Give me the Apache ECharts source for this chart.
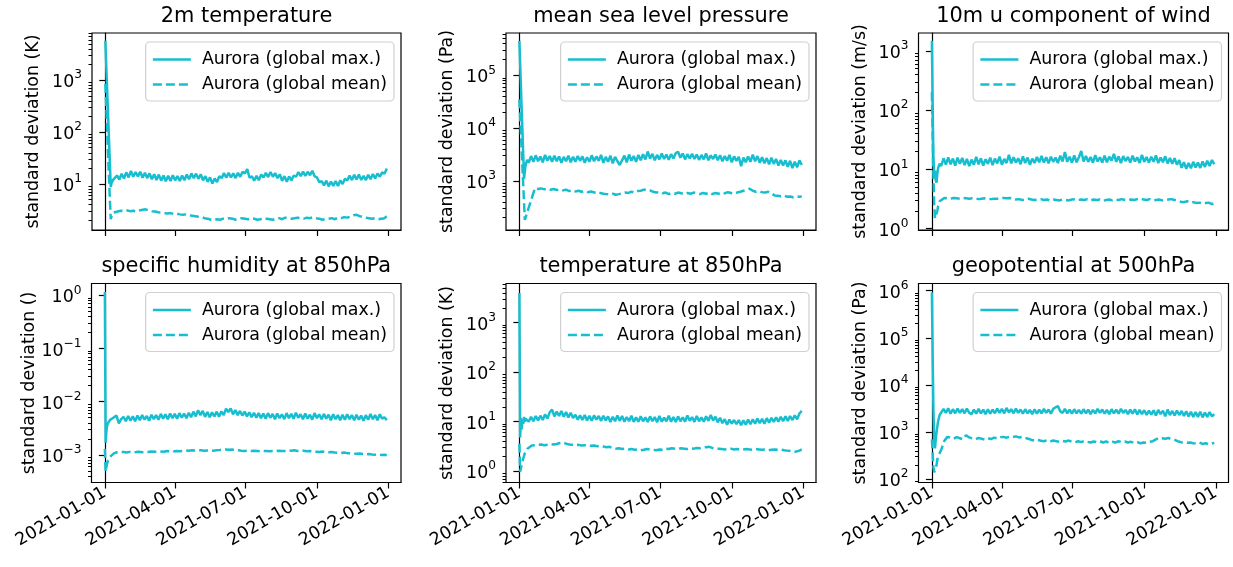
<!DOCTYPE html>
<html>
<head>
<meta charset="utf-8">
<script src="https://cdn.jsdelivr.net/npm/echarts@6.0.0/dist/echarts.min.js"></script>
<style>
html,body{margin:0;padding:0;background:#fff;}
#chart{width:1233px;height:567px;}
</style>
</head>
<body>
<div id="chart"></div>
<script>
// ---------- DATA ----------
// day offsets from 2021-01-01 for the "global max." series
const daysMax = [0,1,2,3,4,5,6,7,8,10,
  12,15,18,21,24,27,30,33,36,39,
  42,45,48,51,54,57,60,63,66,69,
  72,75,78,81,84,87,90,93,96,99,
  102,105,108,111,114,117,120,123,126,129,
  132,135,138,141,144,147,150,153,156,159,
  162,165,168,171,174,177,180,183,186,189,
  192,195,198,201,204,207,210,213,216,219,
  222,225,228,231,234,237,240,243,246,249,
  252,255,258,261,264,267,270,273,276,279,
  282,285,288,291,294,297,300,303,306,309,
  312,315,318,321,324,327,330,333,336,339,
  342,345,348,351,354,357,360,363];
// day offsets from 2021-01-01 for the "global mean" series
const daysMean = [0,1,2,3,4,5,6,7,8,10,
  12,16,20,24,28,32,36,40,44,48,
  52,56,60,64,68,72,76,80,84,88,
  92,96,100,104,108,112,116,120,124,128,
  132,136,140,144,148,152,156,160,164,168,
  172,176,180,184,188,192,196,200,204,208,
  212,216,220,224,228,232,236,240,244,248,
  252,256,260,264,268,272,276,280,284,288,
  292,296,300,304,308,312,316,320,324,328,
  332,336,340,344,348,352,356,360,363];

const xTickValues = [0, 90, 181, 273, 365];
const xTickLabels = ['2021-01-01','2021-04-01','2021-07-01','2021-10-01','2022-01-01'];

const panelTitles = ['2m temperature','mean sea level pressure','10m u component of wind',
  'specific humidity at 850hPa','temperature at 850hPa','geopotential at 500hPa'];
const yAxisNames = ['standard deviation (K)','standard deviation (Pa)','standard deviation (m/s)',
  'standard deviation ()','standard deviation (K)','standard deviation (Pa)'];
const yMin = [1.30, 117, 0.95, 3.03e-4, 0.59, 85];
const yMax = [8130, 635000, 1995, 1.67, 6200, 1.42e6];
const yTickValues = [[10,100,1000],[1000,10000,100000],[1,10,100,1000],
  [0.001,0.01,0.1,1],[1,10,100,1000],[100,1000,10000,100000,1000000]];
const legendNames = ['Aurora (global max.)','Aurora (global mean)'];

const t2mMax = [5800,2300,900,360,140,56,22,8.8,10.5,12,
  11.4,14.6,12.2,15.8,12.8,16.8,13.4,17.8,13.8,17,
  14,17.2,13.2,16.4,13,16,12.4,15.4,12,15.2,
  11.6,14.6,11.3,14.4,11.4,14.8,11.8,14.2,11.4,14.6,
  11.8,15.2,12.4,16,13,15.8,12.6,15.4,11.8,14.2,
  11,13.4,10.2,12.8,10.9,14.2,13,16.2,13.2,16.4,
  13.4,16,13,16.4,13.8,17.2,16,19.4,13.2,14,
  11.6,14.4,11.8,15.2,13.4,16.4,13.6,17,13.8,16.2,
  13,15.4,11.5,14.2,11.1,14,11.7,14.6,13.8,17,
  14.2,17.4,14.4,17.2,14.8,18,14,13.4,10.8,11.4,
  9.4,11.6,9,11.2,9.2,11.4,9.2,11.8,10,12.6,
  11.7,14.6,11.9,15,12.2,15.2,12,14.4,11.9,15,
  12.4,15.6,12.8,16,13.8,16.8,15.8,20];
const t2mMean = [850,360,150,60,25,10.5,4.5,2.1,2.4,2.8,
  3.0,2.95,3.05,2.98,3.1,3.0,3.05,2.95,3.1,3.2,
  3.25,3.1,3.0,2.95,2.85,2.8,2.75,2.7,2.75,2.65,
  2.7,2.6,2.55,2.6,2.5,2.45,2.4,2.35,2.3,2.2,
  2.15,2.05,2.0,2.1,2.05,2.15,2.1,2.2,2.15,2.05,
  2.1,2.2,2.15,2.1,2.2,2.15,2.05,2.1,2.2,2.15,
  2.1,2.05,2.15,2.2,2.1,2.25,2.2,2.15,2.2,2.25,
  2.2,2.15,2.25,2.2,2.3,2.2,2.15,2.05,2.1,2.15,
  2.2,2.1,2.25,2.2,2.3,2.25,2.35,2.5,2.55,2.4,
  2.35,2.25,2.2,2.15,2.2,2.1,2.15,2.2,2.4];

const mslMax = [450000,166000,61000,22400,8300,3050,1100,1500,2000,2500,
  2200,2950,2300,3050,2350,2900,2250,3100,2400,2950,
  2300,3000,2350,2900,2200,2850,2350,3000,2250,2850,
  2300,2950,2400,2900,2200,2800,2300,3050,2350,2900,
  2400,3100,2200,2850,2300,3000,2150,2850,2350,2000,
  2450,3000,2250,3150,2400,2950,2300,3100,2450,3200,
  2550,3600,2650,3250,2450,3100,2550,3300,2600,3150,
  2500,3200,2650,3350,3550,2750,3300,2550,3200,2650,
  3250,2600,3150,2500,3100,2550,3300,2450,3050,2600,
  3150,2450,3050,2350,2950,2400,3100,2250,2900,2400,
  2850,1900,2750,2250,2900,2300,3150,2350,2950,2200,
  2800,2150,2700,2050,2750,2100,2600,1950,2500,1950,
  2450,1850,2400,1750,2300,1800,2450,2000];
const mslMean = [35000,16300,7700,3650,1720,815,385,182,202,250,
  310,473,725,700,720,690,710,680,700,670,
  690,660,680,640,660,630,650,620,640,610,
  630,600,620,590,570,560,550,570,545,560,
  580,600,590,620,600,640,650,680,690,660,
  620,600,610,580,600,560,590,570,600,580,
  560,590,570,600,580,560,590,570,600,560,
  590,570,600,580,610,590,570,600,620,650,
  680,710,650,620,640,610,600,620,580,530,
  520,510,530,500,505,490,510,500,505];

const u10Max = [1480,120,15,7.5,9.5,6.5,6,8.5,10.5,12.5,
  11.4,15.4,12,16,12.2,15.2,11.6,15.8,12.4,15.6,
  11.8,15,11.4,14.6,12,16.2,12.2,15.4,11.6,14.8,
  12.4,15.8,11.8,15.2,12.6,16.4,12,15,12.8,17.6,
  12.6,16,13,15.4,12.2,16.6,12.8,15.8,12,15.2,
  12.8,16.2,13.2,16.8,13,16,12.6,16.4,13.4,15.8,
  12.8,17,13.6,19.6,13.4,16.4,13,17.2,13.2,16,
  20.5,13.6,16.8,13.4,16.2,13,17.4,13.6,16,13,
  17,13.2,16.4,14,18.2,13.4,16.6,12.8,16.8,13.8,
  16.2,13,17,13.6,16,12.8,17.6,13.4,16.2,13,
  16.4,13.4,17.2,12.8,15.8,13.2,16.6,12.6,15.6,12.4,
  15.4,12,14.4,10.6,13.2,10.2,12.8,10.4,13.4,10.8,
  13,10.6,13.6,11,14,11.4,14.4,12.2];
const u10Mean = [200,40,8,2.5,1.5,1.45,1.6,2.0,2.4,2.9,
  3.1,3.3,3.25,3.2,3.3,3.25,3.2,3.3,3.25,3.2,
  3.25,3.2,3.15,3.2,3.25,3.2,3.15,3.2,3.2,3.25,
  3.3,3.25,3.3,3.2,3.1,3.15,3.05,3.1,3.2,3.1,
  3.05,3.1,3.15,3.05,3.1,3.0,3.1,3.05,3.0,3.1,
  3.05,3.0,3.1,3.15,3.05,3.1,3.05,3.15,3.0,3.1,
  3.05,3.1,2.95,3.05,3.1,3.0,3.1,3.05,3.15,3.05,
  3.0,3.1,3.05,3.15,3.25,3.1,3.05,3.15,3.0,3.05,
  3.1,3.0,3.05,3.1,3.15,3.05,2.95,2.85,2.8,2.9,
  2.75,2.8,2.7,2.75,2.65,2.7,2.75,2.6,2.7];

const q850Max = [1.15,0.0017,0.0028,0.0036,0.0039,0.0042,0.0044,0.0046,0.0047,0.0049,
  0.0046,0.0055,0.0039,0.0047,0.0052,0.0043,0.0054,0.0044,0.0053,0.0043,
  0.0055,0.0045,0.0056,0.0046,0.0054,0.0044,0.0057,0.0047,0.0056,0.0046,
  0.0059,0.0048,0.0058,0.0047,0.006,0.0049,0.0059,0.0048,0.0061,0.005,
  0.006,0.0049,0.0062,0.0051,0.0065,0.0053,0.0069,0.0056,0.0067,0.0052,
  0.0064,0.0051,0.0063,0.0053,0.0065,0.0052,0.0066,0.0056,0.0074,0.0064,
  0.0075,0.0058,0.007,0.0056,0.0067,0.0055,0.0065,0.0053,0.0063,0.0051,
  0.0062,0.005,0.0061,0.0049,0.006,0.0048,0.0061,0.005,0.0059,0.0047,
  0.006,0.0049,0.0058,0.0047,0.0061,0.0049,0.0059,0.0048,0.0062,0.005,
  0.0058,0.0047,0.006,0.0048,0.0057,0.0046,0.0061,0.0049,0.0058,0.0047,
  0.0059,0.0048,0.0057,0.0045,0.0058,0.0047,0.0056,0.0045,0.0057,0.0046,
  0.0058,0.0047,0.0056,0.0045,0.0057,0.0046,0.0055,0.0044,0.0056,0.0046,
  0.0059,0.0047,0.0056,0.0045,0.0058,0.0048,0.0051,0.0045];
const q850Mean = [0.0013,0.00048,0.0006,0.0007,0.00078,0.00082,0.00088,0.00092,0.00096,0.00103,
  0.00108,0.00112,0.00114,0.00113,0.00111,0.00114,0.00112,0.00113,0.00115,0.00112,
  0.00114,0.00113,0.00116,0.00115,0.00117,0.00116,0.00115,0.00118,0.00117,0.00116,
  0.00118,0.00117,0.00119,0.00121,0.0012,0.00122,0.00121,0.00123,0.00122,0.0012,
  0.00121,0.00122,0.0012,0.00123,0.00124,0.00126,0.00127,0.00125,0.00126,0.00123,
  0.00122,0.0012,0.00119,0.00121,0.00118,0.0012,0.00119,0.00117,0.00119,0.00118,
  0.00117,0.00119,0.00118,0.0012,0.00118,0.00119,0.00121,0.0012,0.00122,0.00119,
  0.00118,0.0012,0.00117,0.00118,0.00116,0.00115,0.00114,0.00116,0.00113,0.00112,
  0.00113,0.00111,0.0011,0.00109,0.00111,0.00108,0.00107,0.00106,0.00105,0.00106,
  0.00104,0.00103,0.00104,0.00102,0.00101,0.00102,0.001,0.00101,0.00099];

const t850Max = [4000,4.8,12,7,11,9,12.5,10,11.5,10.5,
  10,12.6,10.2,13,10.6,13.2,10.8,14,11.6,15.4,
  17.6,12.8,16,13,16.4,12.6,15.6,12.2,15.2,11.8,
  13.8,11,13.4,10.8,13.6,10.6,13.2,10.4,13.4,11,
  13,10.4,13.2,10.6,12.8,9.9,12.6,10.2,13.4,10.4,
  13,10,12.4,10.2,13.2,9.9,12.2,10,12.8,10.2,
  12.2,9.9,12.8,10.2,12.4,9.7,13,10,12,10.2,
  13.2,10,12.4,9.9,12.8,10.2,12.2,10,13.4,10.4,
  12.4,9.9,13,10.2,12.2,10,12.8,10.4,13.6,10.6,
  12.6,9.7,12,9.3,11.2,8.7,11,9.1,10.8,8.9,
  10.8,8.5,10.6,8.7,11,8.9,11.2,9.1,11.6,9.3,
  11.4,9.1,11.8,9.5,12,9.9,12.2,10,12.6,10.2,
  12.8,10.4,13,10.8,13.4,11.2,14.6,16.5];
const t850Mean = [3.6,0.97,1.15,1.35,1.55,1.8,2.05,2.3,2.5,2.8,
  3.05,3.3,3.35,3.4,3.45,3.35,3.4,3.5,3.45,3.55,
  3.7,3.8,3.6,3.45,3.4,3.35,3.4,3.3,3.35,3.3,
  3.25,3.3,3.2,3.25,3.15,3.05,3.1,2.95,2.85,2.9,
  2.8,2.85,2.75,2.8,2.7,2.75,2.65,2.7,2.8,2.75,
  2.7,2.65,2.75,2.7,2.85,2.8,2.9,2.85,2.8,2.9,
  2.85,2.8,2.9,2.85,2.95,2.9,3.0,3.05,3.1,2.95,
  2.9,2.85,2.8,2.75,2.8,2.85,2.75,2.8,2.7,2.75,
  2.8,2.75,2.7,2.8,2.75,2.7,2.75,2.65,2.7,2.75,
  2.7,2.75,2.65,2.6,2.55,2.45,2.5,2.6,2.75];

const z500Max = [920000,40000,3000,600,450,700,1000,1300,1700,2300,
  2450,3100,2550,3200,2450,3050,2500,3150,2550,3050,
  2500,3150,2550,2400,3000,2450,3100,2500,3000,2400,
  3050,2450,3000,2500,3150,2550,3100,2500,3250,2600,
  3050,2500,3150,2550,3000,2450,3050,2500,2950,2400,
  3050,2450,3000,2500,3100,2550,3000,2450,3100,3350,
  3550,2750,2550,3100,2500,3000,2450,3050,2500,2950,
  2450,3050,2500,3000,2400,2950,2500,3100,2550,3000,
  2450,2950,2400,3050,2500,3000,2450,3100,2550,2950,
  2400,3000,2450,3050,2350,2950,2400,2900,2300,2850,
  2350,2900,2250,2950,2400,2850,2150,3000,2300,2800,
  2250,2850,2300,2800,2200,2750,2150,2700,2100,2650,
  2100,2700,2050,2600,2100,2650,2150,2400];
const z500Mean = [700,350,180,140,135,150,200,260,300,330,
  420,650,790,760,720,780,740,700,860,770,
  730,700,750,720,690,740,710,760,730,780,
  790,760,800,780,810,770,790,750,720,680,
  660,690,650,640,670,630,660,640,620,650,
  630,660,620,600,640,610,650,620,600,630,
  610,640,600,630,590,620,600,640,610,630,
  600,620,590,610,580,600,590,620,640,700,
  760,740,720,750,700,680,640,610,600,590,
  600,580,570,600,560,580,550,570,590];

const maxSeries = [t2mMax, mslMax, u10Max, q850Max, t850Max, z500Max];
const meanSeries = [t2mMean, mslMean, u10Mean, q850Mean, t850Mean, z500Mean];

// ---------- LAYOUT / STYLE ----------
const FONT = 'DejaVu Sans';
const FS = 17.4;
const COLOR = '#17becf';
const gridBoxes = [
  {left: 92, top: 33, width: 309, height: 197},
  {left: 506, top: 33, width: 310, height: 197},
  {left: 918.5, top: 33, width: 310, height: 197},
  {left: 91.5, top: 283.5, width: 309.5, height: 199},
  {left: 506, top: 283.5, width: 310, height: 199},
  {left: 918.5, top: 283.5, width: 310, height: 199}
];
const X_MIN = -17.2, X_MAX = 381.3;

function toPairs(xs, vals){ return vals.map((v,i)=>[xs[i], v]); }
function minorTicks(min, max){
  const out = [];
  for (let e = Math.floor(Math.log10(min)) - 1; e <= Math.ceil(Math.log10(max)); e++) {
    for (let m = 2; m <= 9; m++) {
      const v = parseFloat((m * Math.pow(10, e)).toPrecision(6));
      if (v >= min && v <= max) out.push(v);
    }
  }
  return out;
}
function logLabel(v){
  const e = Math.round(Math.log10(v));
  return '{b|10}{s|' + String(e).replace('-', '\u2212') + '}';
}

const grids = [], xAxes = [], yAxes = [], series = [], titles = [], legends = [];
gridBoxes.forEach((g, i) => {
  const bottomRow = i >= 3;
  grids.push({left: g.left, top: g.top, width: g.width, height: g.height,
    show: true, borderColor: '#000', borderWidth: 1.2, backgroundColor: 'transparent'});
  xAxes.push({
    type: 'value', gridIndex: i, min: X_MIN, max: X_MAX,
    axisLine: {show: true, onZero: false, lineStyle: {color: '#000', width: 1.2}},
    axisTick: {show: true, length: 6, customValues: xTickValues, lineStyle: {color: '#000', width: 1.2}},
    axisLabel: {show: bottomRow, customValues: xTickValues, rotate: 30, margin: 9,
      fontFamily: FONT, fontSize: FS, color: '#000',
      formatter: (v) => { const k = xTickValues.indexOf(v); return k >= 0 ? xTickLabels[k] : ''; }},
    splitLine: {show: false}
  });
  yAxes.push({
    type: 'log', logBase: 10, gridIndex: i, position: 'left', min: yMin[i], max: yMax[i],
    name: yAxisNames[i], nameLocation: 'middle', nameGap: 50,
    nameTextStyle: {fontFamily: FONT, fontSize: FS, color: '#000'},
    axisLine: {show: true, lineStyle: {color: '#000', width: 1.2}},
    axisTick: {show: true, length: 6, customValues: yTickValues[i], lineStyle: {color: '#000', width: 1.2}},
    axisLabel: {show: true, customValues: yTickValues[i], margin: 10, formatter: logLabel,
      rich: {
        b: {fontFamily: FONT, fontSize: FS, color: '#000', lineHeight: 22, verticalAlign: 'bottom'},
        s: {fontFamily: FONT, fontSize: 12.2, color: '#000', lineHeight: 12, verticalAlign: 'top'}
      }},
    splitLine: {show: false}
  });
  yAxes.push({
    type: 'log', logBase: 10, gridIndex: i, position: 'left', offset: 0, min: yMin[i], max: yMax[i],
    axisLine: {show: false},
    axisTick: {show: true, length: 3.5, customValues: minorTicks(yMin[i], yMax[i]), lineStyle: {color: '#000', width: 1}},
    axisLabel: {show: false},
    splitLine: {show: false}
  });
  series.push({
    name: legendNames[0], type: 'line', xAxisIndex: i, yAxisIndex: 2*i,
    data: toPairs(daysMax, maxSeries[i]), showSymbol: false, symbol: 'none',
    lineStyle: {color: COLOR, width: 2.5, type: 'solid'}, itemStyle: {color: COLOR},
    animation: false, silent: true, z: 3
  });
  series.push({
    name: legendNames[1], type: 'line', xAxisIndex: i, yAxisIndex: 2*i,
    data: toPairs(daysMean, meanSeries[i]), showSymbol: false, symbol: 'none',
    lineStyle: {color: COLOR, width: 2.5, type: [9, 4]}, itemStyle: {color: COLOR},
    animation: false, silent: true, z: 3
  });
  titles.push({
    text: panelTitles[i], left: g.left + g.width / 2, textAlign: 'center',
    top: g.top - 27, padding: 0,
    textStyle: {fontFamily: FONT, fontSize: 20.9, fontWeight: 'normal', color: '#000'}
  });
  legends.push({
    data: legendNames, orient: 'vertical',
    right: 1233 - (g.left + g.width) + 7, top: g.top + 9,
    itemWidth: 38, itemHeight: 14, itemGap: 8,
    padding: [9, 7, 8, 6],
    borderColor: '#d0d0d0', borderWidth: 1.2, borderRadius: 4,
    backgroundColor: 'rgba(255,255,255,0.8)',
    selectedMode: false,
    itemStyle: {opacity: 0},
    lineStyle: {width: 2.5},
    textStyle: {fontFamily: FONT, fontSize: FS, color: '#000', padding: [0, 0, 0, 6]}
  });
});

const chart = echarts.init(document.getElementById('chart'), null, {renderer: 'canvas'});
chart.setOption({
  animation: false,
  backgroundColor: '#fff',
  title: titles,
  legend: legends,
  grid: grids,
  xAxis: xAxes,
  yAxis: yAxes,
  series: series
});
</script>
</body>
</html>
